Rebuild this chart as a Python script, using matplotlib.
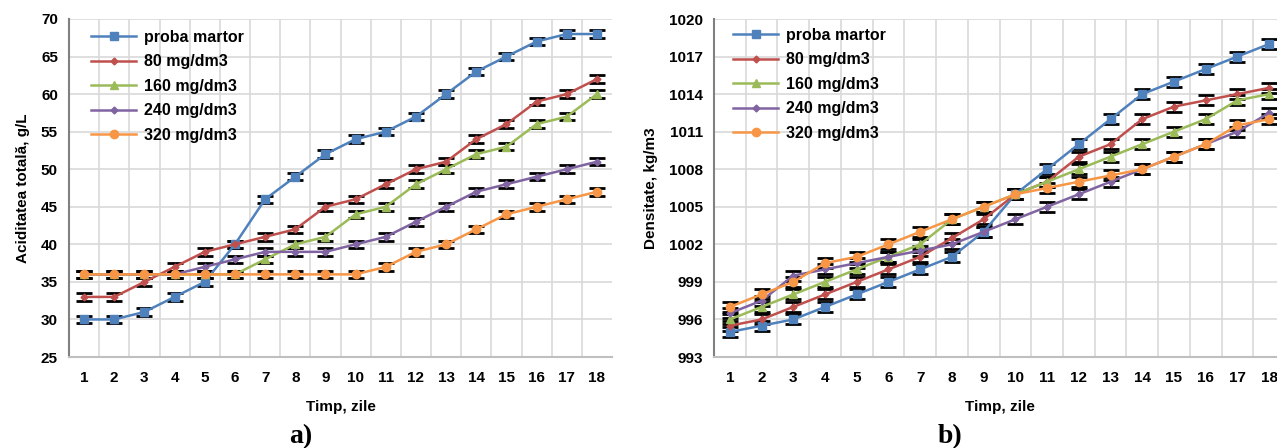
import matplotlib.pyplot as plt

plt.rcParams['font.family'] = ['Liberation Sans', 'DejaVu Sans']
plt.rcParams['font.weight'] = 'bold'

days = list(range(1, 19))
series_names = ["proba martor", "80 mg/dm3", "160 mg/dm3", "240 mg/dm3", "320 mg/dm3"]

# a) total acidity, g/L
acid_martor = [30, 30, 31, 33, 35, 40, 46, 49, 52, 54, 55, 57, 60, 63, 65, 67, 68, 68]
acid_80 = [33, 33, 35, 37, 39, 40, 41, 42, 45, 46, 48, 50, 51, 54, 56, 59, 60, 62]
acid_160 = [36, 36, 36, 36, 36, 36, 38, 40, 41, 44, 45, 48, 50, 52, 53, 56, 57, 60]
acid_240 = [36, 36, 36, 36, 37, 38, 39, 39, 39, 40, 41, 43, 45, 47, 48, 49, 50, 51]
acid_320 = [36, 36, 36, 36, 36, 36, 36, 36, 36, 36, 37, 39, 40, 42, 44, 45, 46, 47]
acid_err = 0.5

# b) density, kg/m3
dens_martor = [995, 995.5, 996, 997, 998, 999, 1000, 1001, 1003, 1006, 1008, 1010, 1012, 1014, 1015, 1016, 1017, 1018]
dens_80 = [995.5, 996, 997, 998, 999, 1000, 1001, 1002.5, 1004, 1006, 1007, 1009, 1010, 1012, 1013, 1013.5, 1014, 1014.5]
dens_160 = [996, 997, 998, 999, 1000, 1001, 1002, 1004, 1005, 1006, 1007, 1008, 1009, 1010, 1011, 1012, 1013.5, 1014]
dens_240 = [996.5, 997.5, 999.5, 1000, 1000.5, 1001, 1001.5, 1002, 1003, 1004, 1005, 1006, 1007, 1008, 1009, 1010, 1011, 1012.5]
dens_320 = [997, 998, 999, 1000.5, 1001, 1002, 1003, 1004, 1005, 1006, 1006.5, 1007, 1007.5, 1008, 1009, 1010, 1011.5, 1012]
dens_err = 0.4

colors = ['#4F81BD', '#C0504D', '#9BBB59', '#8064A2', '#F79646']
markers = ['s', 'D', '^', 'D', 'o']
msizes = [6, 3.5, 5.5, 3.5, 6]

fig = plt.figure(figsize=(12.77, 4.48), dpi=100)
W, H = 1277, 448
ax_a = fig.add_axes([69 / W, 1 - 357 / H, (612 - 69) / W, (357 - 19) / H])
ax_b = fig.add_axes([714 / W, 1 - 357 / H, (1285 - 714) / W, (357 - 19) / H])


def draw(ax, data, err, ylim, ystep, ylabel, legend_xy):
    for vals, name, c, m, ms in zip(data, series_names, colors, markers, msizes):
        ax.errorbar(days, vals, yerr=err, color=c, marker=m, markersize=ms,
                    linewidth=1.8, ecolor='black', elinewidth=1.5,
                    capsize=5.5, capthick=2, label=name, zorder=3)
    ax.set_xlim(0.5, 18.5)
    ax.set_ylim(*ylim)
    ax.set_yticks(range(ylim[0], ylim[1] + 1, ystep))
    ax.set_xticks(days)
    ax.set_xticks([d + 0.5 for d in range(0, 18)], minor=True)
    ax.grid(True, which='minor', axis='x', color='#D9D9D9', linewidth=1.2)
    ax.grid(True, which='major', axis='y', color='#D9D9D9', linewidth=1.2)
    ax.set_axisbelow(True)
    ax.tick_params(which='both', length=0, labelsize=11, pad=8)
    ax.tick_params(axis='x', pad=10)
    for s in ['top', 'right']:
        ax.spines[s].set_visible(False)
    ax.spines['left'].set_color('#808080')
    ax.spines['left'].set_linewidth(1.5)
    ax.spines['bottom'].set_color('#BFBFBF')
    ax.spines['bottom'].set_linewidth(1.5)
    ax.set_xlabel("Timp, zile", fontsize=11, fontweight='bold', labelpad=11)
    ax.set_ylabel(ylabel, fontsize=11, fontweight='bold', labelpad=8)
    handles, labels = ax.get_legend_handles_labels()
    handles = [h[0] for h in handles]
    ax.legend(handles, labels, loc='upper left', bbox_to_anchor=legend_xy,
              frameon=False, fontsize=11.5, handlelength=2.8,
              handletextpad=0.5, labelspacing=0.6, borderaxespad=0.8)


draw(ax_a, [acid_martor, acid_80, acid_160, acid_240, acid_320], acid_err,
     (25, 70), 5, "Aciditatea totală, g/L", (0.006, 1.025))
draw(ax_b, [dens_martor, dens_80, dens_160, dens_240, dens_320], dens_err,
     (993, 1020), 3, "Densitate, kg/m3", (0.0, 1.031))

fig.text(301 / W, 1 - 437 / H, "a)", fontsize=20, fontweight='bold',
         family='Liberation Serif', ha='center', va='center')
fig.text(950 / W, 1 - 437 / H, "b)", fontsize=20, fontweight='bold',
         family='Liberation Serif', ha='center', va='center')

fig.savefig("out.png", dpi=100)
